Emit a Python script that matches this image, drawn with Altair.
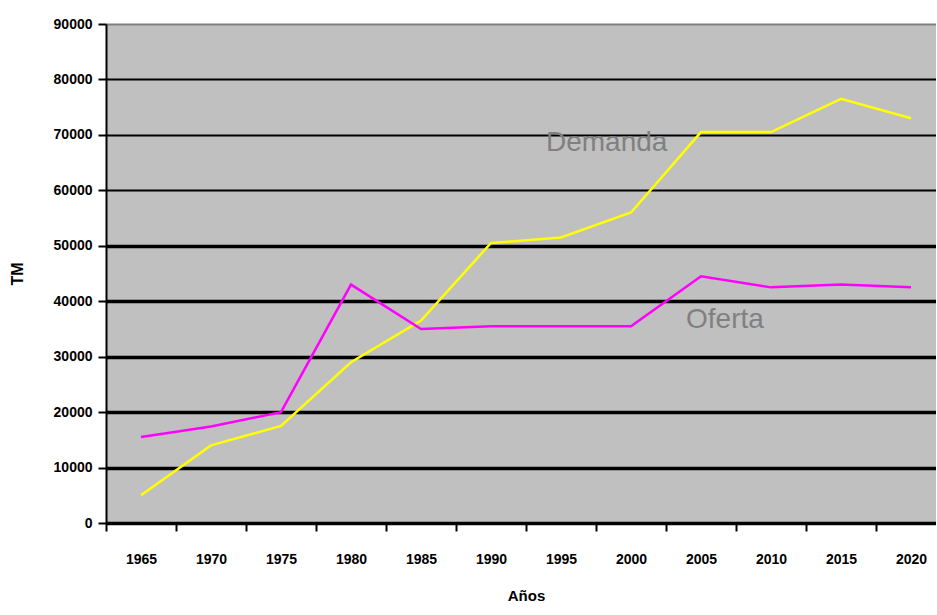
import altair as alt
import pandas as pd

years = ["1965", "1970", "1975", "1980", "1985", "1990",
         "1995", "2000", "2005", "2010", "2015", "2020"]
demanda = [5000, 14000, 17500, 29000, 36500, 50500,
           51500, 56000, 70500, 70500, 76500, 73000]
oferta = [15500, 17400, 20000, 43000, 35000, 35500,
          35500, 35500, 44500, 42500, 43000, 42500]
series_names = ["Demanda", "Oferta"]
series_colors = ["#FFFF00", "#FF00FF"]
y_ticks = [0, 10000, 20000, 30000, 40000, 50000, 60000, 70000, 80000, 90000]

# in-chart labels: text, anchor year, value
label_text = ["Demanda", "Oferta"]
label_year = ["1995", "2005"]
label_value = [68600, 36600]

rows = []
for name, vals in zip(series_names, [demanda, oferta]):
    for yr, v in zip(years, vals):
        rows.append({"year": yr, "value": v, "serie": name})
df = pd.DataFrame(rows)
lab = pd.DataFrame({"year": label_year, "value": label_value, "text": label_text})

FONT = "Liberation Sans"

x_axis = alt.Axis(
    title="Años", tickBand="extent", tickSize=8, tickColor="black", tickWidth=2,
    domainColor="black", domainWidth=2, labelAngle=0, labelFont=FONT,
    labelFontSize=14, labelFontWeight="bold", labelColor="black", labelPadding=21,
    titleFont=FONT, titleFontSize=15, titleFontWeight="bold", titleColor="black",
    titlePadding=22, grid=False,
)
y_axis = alt.Axis(
    title="TM", values=y_ticks, format="d", tickSize=8, tickColor="black", tickWidth=2,
    domainColor="black", domainWidth=2, labelFont=FONT, labelFontSize=14,
    labelFontWeight="bold", labelColor="black", labelPadding=6,
    titleFont=FONT, titleFontSize=16, titleFontWeight="bold", titleColor="black",
    titlePadding=28, grid=True,
    gridColor={"condition": {"test": "datum.value >= 90000", "value": "#808080"}, "value": "black"},
    gridWidth={"condition": {"test": "datum.value <= 50000", "value": 3.5}, "value": 2},
)

x_scale = alt.Scale(type="band", domain=years, range=[0, 840], paddingInner=0, paddingOuter=0)
y_scale = alt.Scale(domain=[0, 90000], nice=False)

lines = alt.Chart(df).mark_line(strokeWidth=2.5).encode(
    x=alt.X("year:O", scale=x_scale, axis=x_axis, bandPosition=0.5),
    y=alt.Y("value:Q", scale=y_scale, axis=y_axis),
    color=alt.Color("serie:N", scale=alt.Scale(domain=series_names, range=series_colors), legend=None),
    detail="serie:N",
)

texts = alt.Chart(lab).mark_text(
    font=FONT, fontSize=28, color="#808080", align="left", baseline="middle", dx=-15
).encode(
    x=alt.X("year:O", scale=x_scale, axis=x_axis, bandPosition=0.5),
    y=alt.Y("value:Q", scale=y_scale, axis=y_axis),
    text="text:N",
)

chart = alt.layer(lines, texts).properties(
    width=830, height=499,
    autosize=alt.AutoSizeParams(type="none"),
    padding={"left": 106, "top": 24, "right": 0, "bottom": 84},
    background="white",
).configure_view(fill="#C0C0C0", strokeWidth=0)

chart.save("out.html", embed_options={"renderer": "svg", "actions": False})
